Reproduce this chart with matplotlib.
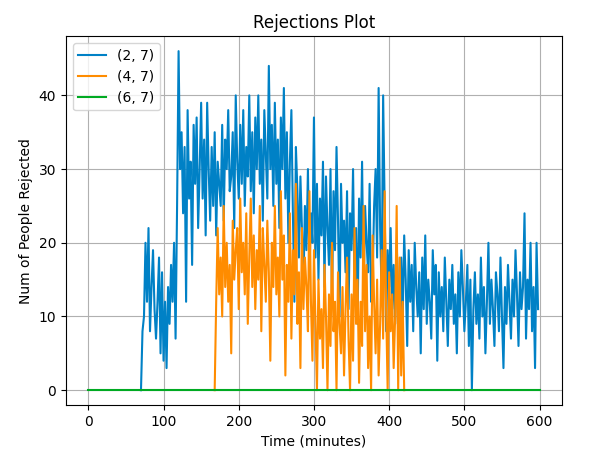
import numpy as np
import matplotlib
matplotlib.use("Agg")
import matplotlib.pyplot as plt

# blue series (2, 7): one value every 2 minutes from t=70 to t=600
blue_t0 = 70
blue_vals = [
    0, 8, 10, 20, 12, 22, 8, 14, 19, 11, 7, 12, 18, 5, 16, 4,
    12, 3, 14, 9, 17, 12, 20, 7, 25, 46, 30, 35, 24, 33, 12, 38, 26, 31, 17, 36,
    28, 37, 22, 30, 39, 26, 34, 21, 39, 30, 23, 33, 25, 35, 21, 31, 28, 25, 36, 23,
    34, 30, 38, 27, 29, 35, 22, 40, 31, 26, 36, 28, 38, 25, 33, 29, 40, 27, 35, 24,
    37, 30, 40, 28, 34, 23, 38, 32, 26, 44, 30, 36, 25, 39, 28, 34, 22, 37, 30, 41,
    26, 35, 20, 31, 38, 24, 12, 33, 27, 18, 29, 22, 14, 25, 19, 30, 16, 24, 20, 37,
    18, 28, 15, 26, 21, 31, 14, 29, 22, 17, 30, 12, 27, 19, 33, 23, 10, 28, 20, 23,
    16, 27, 11, 24, 19, 30, 14, 22, 9, 26, 18, 31, 13, 25, 20, 16, 28, 12,
    15, 25, 30, 18, 41, 22, 13, 40, 25, 8, 19, 14, 22, 11, 17, 9, 20, 13, 7, 18,
    10, 21, 15, 6, 19, 12, 17, 8, 20, 14, 10, 16, 5, 18, 11, 21, 9, 15, 12, 7,
    19, 13, 17, 4, 16, 10, 14, 8, 18, 12, 6, 15, 11, 17, 9, 13, 5, 16, 10, 19,
    14, 8, 12, 17, 6, 15, 0, 11, 16, 9, 13, 7, 18, 10, 14, 5, 12, 20, 9, 15,
    11, 6, 16, 13, 8, 18, 10, 3, 14, 9, 17, 12, 7, 15, 10, 19, 13, 6, 16, 11,
    14, 24, 7, 15, 11, 20, 8, 14, 3, 20, 11,
]
# orange series (4, 7): one value every 2 minutes from t=168 to t=420
orange_t0 = 168
orange_vals = [
    0, 12, 22, 13, 18, 10, 25, 14, 20, 12, 17, 5, 23, 15, 19, 22, 11, 26, 16, 20,
    13, 24, 9, 18, 26, 14, 21, 11, 19, 15, 25, 8, 22, 17, 12, 23, 16, 4, 20, 14,
    25, 13, 18, 10, 27, 15, 21, 2, 17, 12, 24, 7, 19, 13, 28, 9, 16, 3, 22, 11,
    18, 14, 8, 27, 12, 4, 19, 9, 0, 15, 7, 11, 3, 17, 10, 0, 13, 6, 20, 8,
    12, 0, 16, 9, 5, 14, 2, 11, 18, 7, 0, 13, 4, 22, 9, 15, 1, 12, 6, 25,
    8, 17, 3, 10, 0, 21, 12, 5, 15, 2, 9, 19, 7, 27, 11, 0, 16, 8, 13, 3,
    10, 25, 0, 18, 2, 12, 0,
]
green_t = [0, 600]
green_vals = [0, 0]

blue_t = blue_t0 + 2 * np.arange(len(blue_vals))
orange_t = orange_t0 + 2 * np.arange(len(orange_vals))

fig, ax = plt.subplots(figsize=(5.98, 4.55), dpi=100)
ax.plot(blue_t, blue_vals, color="#0081c6", lw=1.5, label="(2, 7)")
ax.plot(orange_t, orange_vals, color="#ff8c00", lw=1.5, label="(4, 7)")
ax.plot(green_t, green_vals, color="#00aa22", lw=1.5, label="(6, 7)")
ax.set_title("Rejections Plot")
ax.set_xlabel("Time (minutes)")
ax.set_ylabel("Num of People Rejected")
ax.set_xlim(-30, 630)
ax.set_ylim(-2, 48)
ax.grid(True, color="#b0b0b0")
ax.legend(loc="upper left")
fig.subplots_adjust(left=0.11, right=0.94, top=0.92, bottom=0.11)
fig.savefig("out.png")
